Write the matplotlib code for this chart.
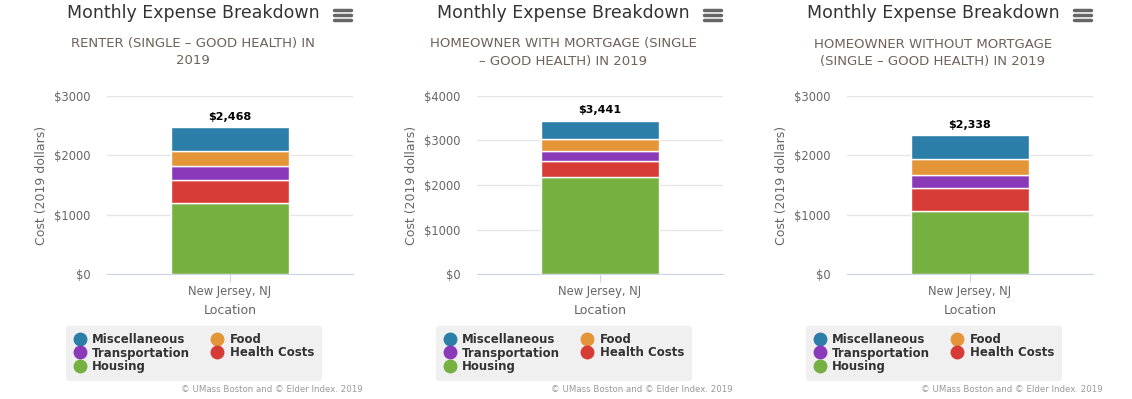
import matplotlib.pyplot as plt
from matplotlib.lines import Line2D

categories = ["Housing", "Health Costs", "Transportation", "Food", "Miscellaneous"]
colors = ["#76b041", "#d63b36", "#8a3ab9", "#e49537", "#2b7ea8"]

subtitles = [
    "RENTER (SINGLE \u2013 GOOD HEALTH) IN\n2019",
    "HOMEOWNER WITH MORTGAGE (SINGLE\n\u2013 GOOD HEALTH) IN 2019",
    "HOMEOWNER WITHOUT MORTGAGE\n(SINGLE \u2013 GOOD HEALTH) IN 2019",
]
location = "New Jersey, NJ"

housing = [1195, 2170, 1070]
health = [395, 375, 385]
transport = [225, 225, 215]
food = [248, 265, 265]
misc = [405, 406, 403]
totals = ["$2,468", "$3,441", "$2,338"]
y_max = [3000, 4000, 3000]

W, H = 1132, 399
fig = plt.figure(figsize=(W / 100, H / 100), dpi=100)

def fx(px):
    return px / W

def fy(py):
    return 1 - py / H

for i in range(3):
    off = 370 * i
    ax = fig.add_axes([fx(107 + off), fy(274.3), fx(246), (274.3 - 95.7) / H])
    vals = [housing[i], health[i], transport[i], food[i], misc[i]]
    bottom = 0
    for v, c in zip(vals, colors):
        ax.bar(0, v, width=0.48, bottom=bottom, color=c, edgecolor="white", linewidth=1, zorder=3)
        bottom += v
    ax.text(0, bottom + y_max[i] * 0.03, totals[i], ha="center", va="bottom",
            fontsize=8, fontweight="bold", color="black")
    ax.set_xlim(-0.5, 0.5)
    ax.set_ylim(0, y_max[i])
    ax.set_yticks(range(0, y_max[i] + 1, 1000))
    ax.set_yticklabels(["$%d" % t for t in range(0, y_max[i] + 1, 1000)])
    ax.set_xticks([0])
    ax.set_xticklabels([location])
    ax.grid(axis="y", color="#e6e6e6", linewidth=1, zorder=0)
    for s in ["top", "right", "left"]:
        ax.spines[s].set_visible(False)
    ax.spines["bottom"].set_color("#ccd6eb")
    ax.tick_params(axis="y", length=0, pad=12, labelsize=8.3, labelcolor="#666666")
    ax.tick_params(axis="x", length=6, color="#ccd6eb", pad=2, labelsize=8.3, labelcolor="#666666")
    ax.set_xlabel("Location", fontsize=9, color="#666666", labelpad=4)
    ax.set_ylabel("Cost (2019 dollars)", fontsize=9, color="#666666", labelpad=4)

    cx = 193 + off
    fig.text(fx(cx), fy(13), "Monthly Expense Breakdown", ha="center", va="center",
             fontsize=12.5, color="#333333")
    fig.text(fx(cx), fy(52.5), subtitles[i], ha="center", va="center",
             fontsize=9.5, color="#6e625a", linespacing=1.4)
    for dy in (10, 15, 20):
        fig.add_artist(Line2D([fx(334 + off), fx(351 + off)], [fy(dy), fy(dy)],
                              color="#666666", linewidth=2.5, solid_capstyle="round"))

    order = [4, 2, 0, 3, 1]
    handles = [Line2D([], [], marker="o", linestyle="", markersize=9,
                      markerfacecolor=colors[k], markeredgecolor=colors[k]) for k in order]
    labels = [categories[k] for k in order]
    leg = fig.legend(handles, labels, ncol=2, loc="center",
                     bbox_to_anchor=(fx(193.5 + off), fy(353)),
                     frameon=True, fancybox=True, facecolor="#f0f0f0", edgecolor="#f0f0f0",
                     framealpha=1, prop={"size": 8.5, "weight": "bold"},
                     handletextpad=0.45, columnspacing=1.7, labelspacing=0.05,
                     borderpad=0.55, handlelength=1.2)
    for t in leg.get_texts():
        t.set_color("#333333")
    fig.text(fx(363 + off), fy(390), "\u00a9 UMass Boston and \u00a9 Elder Index. 2019",
             ha="right", va="center", fontsize=6.2, color="#999999")

fig.savefig("out.png", dpi=100)
